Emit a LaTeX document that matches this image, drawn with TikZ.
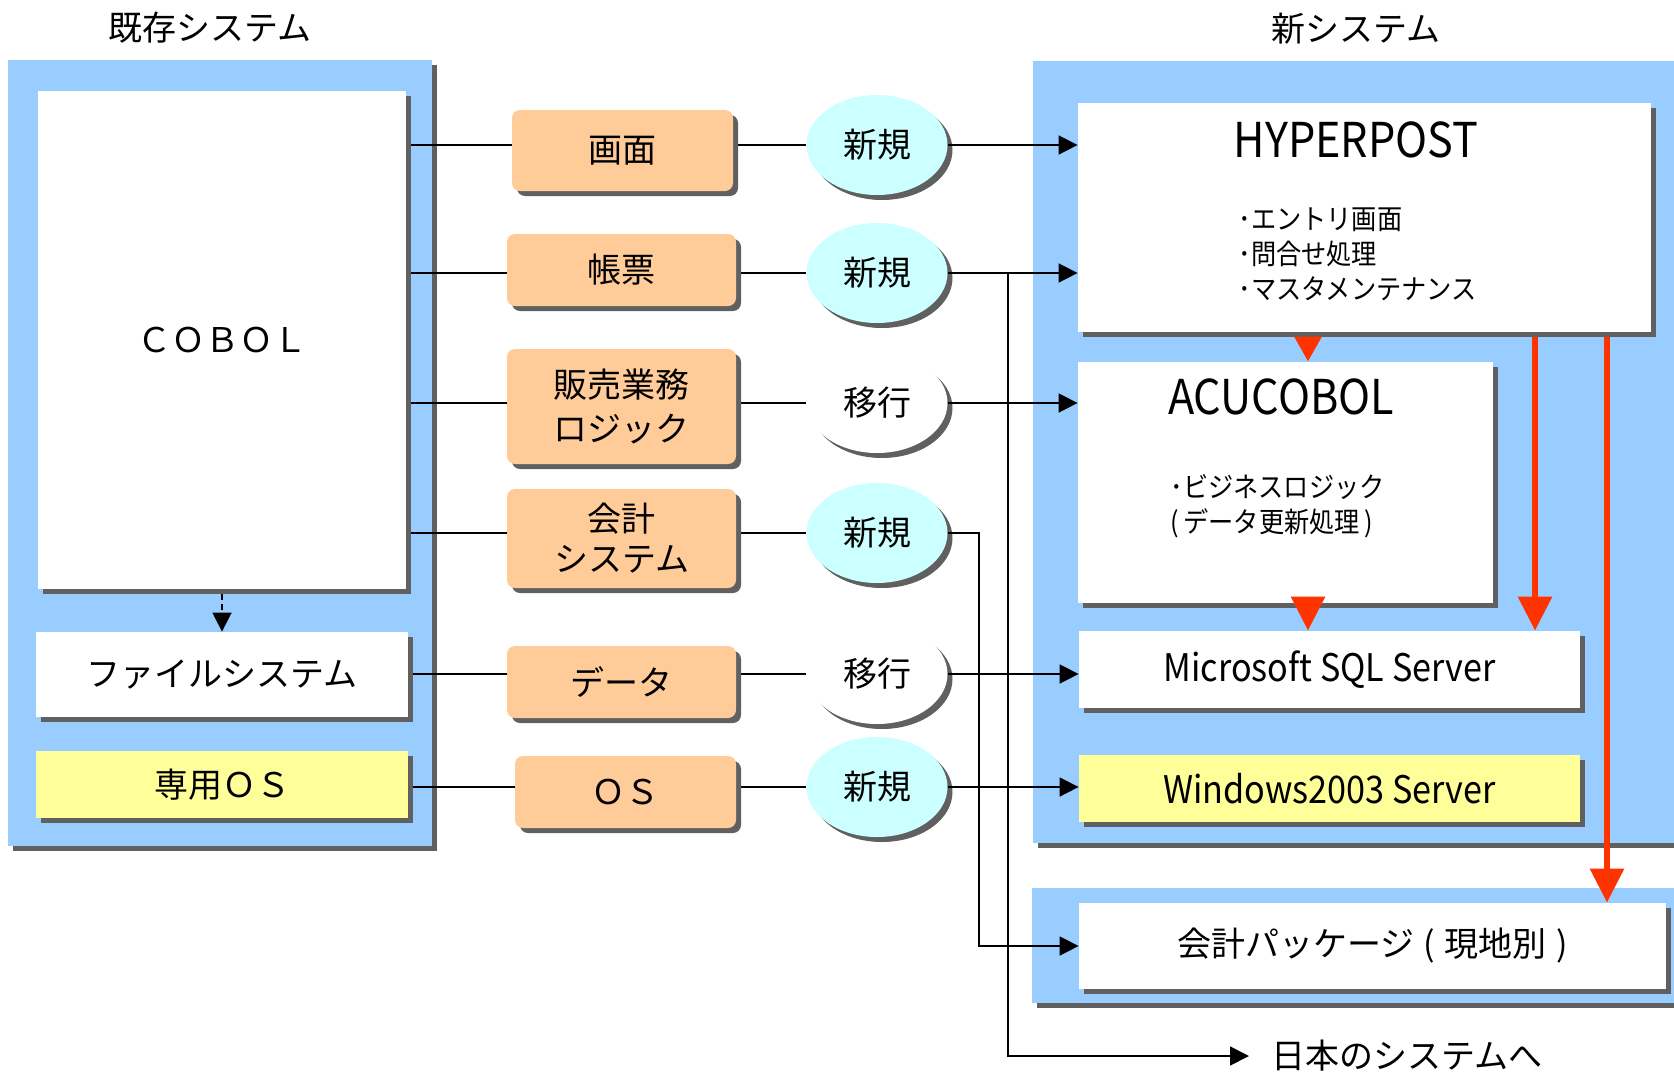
\documentclass[tikz,border=0pt]{standalone}
\usepackage{fontspec}
\setmainfont{Noto Sans CJK JP}
\newfontfamily\narrowfont[FakeStretch=0.9]{Noto Sans CJK JP}
\usepackage{xcolor}
\usetikzlibrary{arrows.meta,calc,positioning,shadows,shapes.geometric}

\definecolor{panelblue}{HTML}{99CCFF}
\definecolor{boxorange}{HTML}{FFCC99}
\definecolor{osyellow}{HTML}{FFFF99}
\definecolor{newcyan}{HTML}{CCFFFF}
\definecolor{flowred}{HTML}{FF3300}
\definecolor{shadowgray}{HTML}{606060}

\pgfdeclarelayer{panel}
\pgfdeclarelayer{wires}
\pgfsetlayers{panel,wires,main}

\begin{document}
\begin{tikzpicture}[
    x=0.5pt, y=-0.5pt,
    font=\fontsize{17pt}{20pt}\selectfont,
    castshadow/.style={drop shadow={shadow xshift=2.5pt, shadow yshift=-2.5pt,
        fill=shadowgray, opacity=1}},
    panelbg/.style={fill=panelblue, castshadow, inner sep=0pt},
    wbox/.style={fill=white, castshadow, inner sep=0pt, align=center},
    ybox/.style={fill=osyellow, castshadow, inner sep=0pt, align=center},
    obox/.style={fill=boxorange, rounded corners=4pt, castshadow, inner sep=0pt, align=center},
    newell/.style={ellipse, fill=newcyan, castshadow, minimum width=70.5pt,
        minimum height=50pt, inner sep=0pt},
    movell/.style={newell, fill=white},
    headfont/.style={font=\narrowfont\fontsize{24pt}{28pt}\selectfont},
    srvfont/.style={font=\narrowfont\fontsize{19pt}{22pt}\selectfont},
    listtext/.style={font=\narrowfont\fontsize{14pt}{17.5pt}\selectfont, align=left, inner sep=0pt},
    wire/.style={line width=0.8pt},
    arr/.style={-{Triangle[length=9.5pt,width=9.5pt]}, line width=0.8pt},
    redarr/.style={-{Triangle[length=17pt,width=16.5pt]}, line width=3pt, draw=flowred, fill=flowred}
]
    \useasboundingbox (0,0) rectangle (1674,1076);

    % system panels
    \begin{pgfonlayer}{panel}
        \node[panelbg, minimum width=212pt, minimum height=393pt] (oldsys) at (220,453) {};
        \node[panelbg, minimum width=333.5pt, minimum height=391pt] (newsys) at (1366.5,452) {};
        \node[panelbg, minimum width=334pt, minimum height=57.5pt] (pkgpanel) at (1366,945.5) {};
    \end{pgfonlayer}
    \node (oldtitle) at (210,28) {既存システム};
    \node (newtitle) at (1356,29) {新システム};

    % old system
    \node[wbox, minimum width=184pt, minimum height=249pt] (cobol) at (222,340) {ＣＯＢＯＬ};
    \node[wbox, minimum width=186pt, minimum height=42.5pt] (fsys) at (222,674.5) {ファイルシステム};
    \node[ybox, minimum width=186pt, minimum height=33.5pt] (oldos) at (222,784.5) {専用ＯＳ};

    % migration items
    \node[obox, minimum width=110.5pt, minimum height=40.5pt] (gamen) at (622.5,150.5) {画面};
    \node[obox, minimum width=114.5pt, minimum height=36pt] (chohyo) at (621.5,270) {帳票};
    \node[obox, minimum width=114.5pt, minimum height=57.5pt] (hanbai) at (621.5,406.5) {販売業務\\[2pt]ロジック};
    \node[obox, minimum width=114.5pt, minimum height=49.5pt] (kaikei) at (621.5,538.5) {会計\\システム};
    \node[obox, minimum width=114.5pt, minimum height=36pt] (data) at (621.5,682) {データ};
    \node[obox, minimum width=110.5pt, minimum height=36pt] (os) at (625.5,792) {ＯＳ};

    \node[newell] (e1) at (877,145) {新規};
    \node[newell] (e2) at (877,273) {新規};
    \node[movell] (e3) at (877,403) {移行};
    \node[newell] (e4) at (877,533) {新規};
    \node[movell] (e5) at (877,674) {移行};
    \node[newell] (e6) at (877,787) {新規};

    % new system
    \node[wbox, minimum width=286.5pt, minimum height=114.5pt] (hyper) at (1364.5,217.5) {};
    \node[headfont] (hypername) at (1356,140) {HYPERPOST};
    \node[listtext, anchor=west] (hyperlist) at (1238,254) {･エントリ画面\\･問合せ処理\\･マスタメンテナンス};
    \node[wbox, minimum width=207.5pt, minimum height=120.5pt] (acu) at (1285.5,482.5) {};
    \node[headfont] (acuname) at (1281,397) {ACUCOBOL};
    \node[listtext, anchor=west] (aculist) at (1170,506) {･ビジネスロジック\\(\,データ更新処理\,)};
    \node[wbox, srvfont, minimum width=250.5pt, minimum height=38.5pt] (sql) at (1329.5,669.5) {Microsoft SQL Server};
    \node[ybox, srvfont, minimum width=250.5pt, minimum height=33.5pt] (win) at (1329.5,788.5) {Windows2003 Server};
    \node[wbox, minimum width=293.5pt, minimum height=43pt] (pkg) at (1372.5,946) {会計パッケージ\;(\;現地別\;)};
    \node[anchor=west, inner xsep=11pt, inner ysep=0pt] (japan) at (1249,1056) {日本のシステムへ};

    \coordinate (trunkA) at (979,533);
    \coordinate (trunkB) at (1008,273);
    \coordinate (redA) at (1535,0);
    \coordinate (redB) at (1607,0);
    \coordinate (redC) at (1308,0);

    % lines from the old system
    \begin{pgfonlayer}{wires}
        \draw[wire] (e1 -| cobol.east) -- (e1);
        \draw[wire] (e2 -| cobol.east) -- (e2);
        \draw[wire] (e3 -| cobol.east) -- (e3);
        \draw[wire] (e4 -| cobol.east) -- (e4);
        \draw[wire] (e5 -| fsys.east) -- (e5);
        \draw[wire] (e6 -| oldos.east) -- (e6);
    \end{pgfonlayer}
    \draw[arr, dash pattern=on 3pt off 2pt, shorten <=2.5pt] (cobol.south) -- (fsys.north);

    \draw[arr] (e1) -- (e1 -| hyper.west);
    \draw[arr] (e2) -- (e2 -| hyper.west);
    \draw[arr] (e3) -- (e3 -| acu.west);
    \draw[arr] (e4) -- (trunkA) |- (pkg.west);
    \draw[arr] (e5) -- (e5 -| sql.west);
    \draw[arr] (e6) -- (e6 -| win.west);
    \draw[arr] (trunkB) |- (japan.west);

    % flow inside the new system
    \draw[redarr, -{Triangle[length=12.5pt,width=13pt]}, shorten <=2.5pt] (hyper.south -| redC) -- (acu.north -| redC);
    \draw[redarr] (acu.south -| redC) -- (sql.north -| redC);
    \draw[redarr, shorten <=2.5pt] (hyper.south -| redA) -- (sql.north -| redA);
    \draw[redarr, shorten <=2.5pt] (hyper.south -| redB) -- (pkg.north -| redB);
\end{tikzpicture}
\end{document}
